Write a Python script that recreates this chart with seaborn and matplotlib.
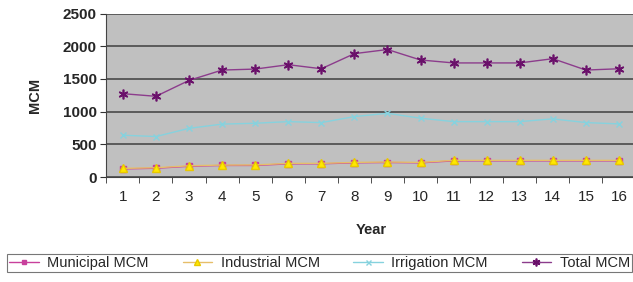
import numpy as np
import pandas as pd
import seaborn as sns
import matplotlib.pyplot as plt
from matplotlib.ticker import FixedLocator

years = list(range(1, 17))
municipal = [125, 135, 165, 178, 178, 202, 203, 218, 223, 218, 248, 248, 248, 248, 248, 248]
industrial = [133, 143, 173, 184, 186, 210, 210, 225, 230, 225, 256, 256, 256, 256, 256, 256]
irrigation = [640, 620, 745, 810, 823, 848, 833, 925, 975, 900, 848, 848, 848, 890, 833, 813]
total = [1275, 1235, 1478, 1636, 1651, 1718, 1656, 1887, 1950, 1790, 1745, 1745, 1745, 1810, 1636, 1656]

series = {
    "Municipal MCM": municipal,
    "Industrial MCM": industrial,
    "Irrigation MCM": irrigation,
    "Total MCM": total,
}

df = pd.DataFrame({"Year": years, **series}).melt(id_vars="Year", var_name="Series", value_name="MCM")

# estilo: linha, marcador, cor do marcador
styles = {
    "Municipal MCM": dict(color="#C8409C", marker="s", mfc="#C8409C", mec="#C8409C", ms=4),
    "Industrial MCM": dict(color="#E6BE6A", marker="^", mfc="#FFE800", mec="#E8C800", ms=6),
    "Irrigation MCM": dict(color="#86D2DE", marker="x", mfc="#86D2DE", mec="#86D2DE", ms=4.5),
    "Total MCM": dict(color="#8C3C8C", marker=(6, 2, 0), mfc="#6A106A", mec="#6A106A", ms=7, mew=1.2),
}

sns.set_style("white")
plt.rcParams["font.family"] = ["Liberation Sans", "DejaVu Sans"]

fig = plt.figure(figsize=(6.33, 2.82), dpi=100)
ax = fig.add_axes([0.168, 0.372, 0.836, 0.58])
ax.set_facecolor("#C0C0C0")

for name in series:
    st = styles[name]
    sub = df[df["Series"] == name]
    sns.lineplot(data=sub, x="Year", y="MCM", ax=ax, color=st["color"], linewidth=1.0,
                 marker=st["marker"], markerfacecolor=st["mfc"], markeredgecolor=st["mec"],
                 markersize=st["ms"], markeredgewidth=st.get("mew", 1.0), label=name, legend=False)

ax.set_xlim(0.5, 16.5)
ax.set_ylim(0, 2500)
ax.set_yticks([0, 500, 1000, 1500, 2000, 2500])
ax.set_xticks(years)
ax.xaxis.set_minor_locator(FixedLocator(np.arange(0.5, 17, 1)))
ax.tick_params(axis="x", which="major", length=0, pad=9, labelsize=11)
ax.tick_params(axis="x", which="minor", length=4, direction="out", color="#333333", bottom=True)
ax.tick_params(axis="y", length=4, direction="out", color="#333333", left=True, labelsize=11, pad=3)
for lbl in ax.get_yticklabels():
    lbl.set_fontweight("bold")

ax.yaxis.grid(True, color="#4A4A4A", linewidth=1.2)
ax.set_axisbelow(True)
for side in ["top", "right"]:
    ax.spines[side].set_visible(False)
ax.spines["left"].set_color("#444444")
ax.spines["bottom"].set_color("#444444")

ax.set_xlabel("Year", fontweight="bold", fontsize=10.5, labelpad=14)
ax.set_ylabel("MCM", fontweight="bold", fontsize=10.5, labelpad=15)

h, l = ax.get_legend_handles_labels()
leg = fig.legend(h, l, loc="lower left", bbox_to_anchor=(0.0, 0.01, 1.01, 0.065), mode="expand",
                 ncol=4, fontsize=10.5, frameon=True, fancybox=False, edgecolor="#555555",
                 handlelength=2.0, handletextpad=0.6, borderpad=0.15, columnspacing=0.8,
                 markerscale=0.8)
leg.get_frame().set_linewidth(0.8)

fig.savefig("out.png", dpi=100)
